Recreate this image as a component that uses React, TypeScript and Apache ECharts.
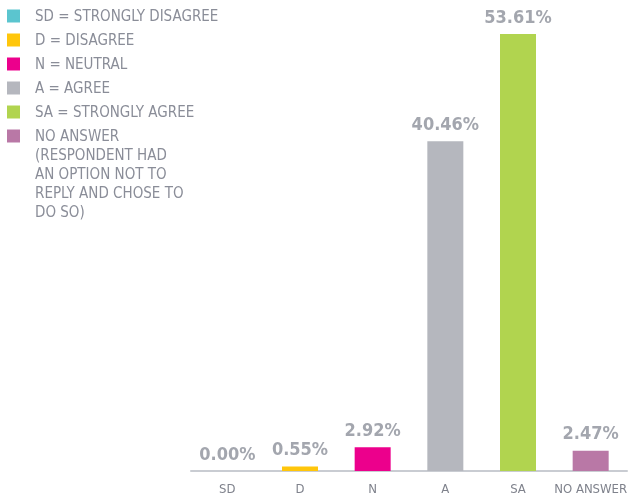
import React, { useEffect, useRef } from "react";
import * as echarts from "echarts";

const categories = ["SD", "D", "N", "A", "SA", "NO ANSWER"];
const values = [0.0, 0.55, 2.92, 40.46, 53.61, 2.47];
const legendLabels = [
  "SD = STRONGLY DISAGREE",
  "D = DISAGREE",
  "N = NEUTRAL",
  "A = AGREE",
  "SA = STRONGLY AGREE",
  "NO ANSWER",
];
const legendNote = "(RESPONDENT HAD\nAN OPTION NOT TO\nREPLY AND CHOSE TO\nDO SO)";
const colors = ["#5bc5cf", "#ffc60b", "#ec008c", "#b5b7be", "#b1d44f", "#b978a6"];

const FONT = "'DejaVu Sans Condensed', 'Liberation Sans Narrow', sans-serif";

export default function App() {
  const ref = useRef<HTMLDivElement>(null);
  useEffect(() => {
    if (!ref.current) return;
    const chart = echarts.init(ref.current, undefined, { renderer: "svg" });
    const series = categories.map((c, i) => ({
      name: c,
      type: "bar",
      stack: "all",
      barWidth: 36,
      itemStyle: { color: colors[i] },
      data: categories.map((_, j) => (j === i ? values[i] : "-")),
      label: {
        show: true,
        position: "top",
        distance: 9,
        formatter: (p: any) => `${Number(p.value).toFixed(2)}%`,
        color: "#a3a6ae",
        fontFamily: FONT,
        fontWeight: "bold",
        fontSize: 18,
      },
    }));
    chart.setOption({
      animation: false,
      grid: { left: 191, right: 1, top: 34, bottom: 27, outerBoundsMode: "none", containLabel: false },
      legend: {
        orient: "vertical",
        left: 2,
        top: 1,
        itemWidth: 13,
        itemHeight: 13,
        itemGap: 4,
        icon: "rect",
        data: categories,
        formatter: (name: string) => legendLabels[categories.indexOf(name)],
        textStyle: {
          color: "#8a8d98",
          fontFamily: FONT,
          fontSize: 15,
          lineHeight: 20,
          padding: [0, 0, 0, 10],
        },
      },
      graphic: [
        {
          type: "text",
          left: 35,
          top: 145,
          style: {
            text: legendNote,
            fill: "#8a8d98",
            font: `15px ${FONT}`,
            lineHeight: 19,
          },
        },
      ],
      xAxis: {
        type: "category",
        data: categories,
        axisLine: { show: true, lineStyle: { color: "#c9ccd2", width: 2 } },
        axisTick: { show: false },
        axisLabel: {
          interval: 0,
          hideOverlap: false,
          color: "#7f828c",
          fontFamily: FONT,
          fontSize: 13,
          margin: 11,
        },
      },
      yAxis: {
        type: "value",
        min: 0,
        max: 53.61,
        show: false,
        splitLine: { show: false },
      },
      series,
    });
    return () => chart.dispose();
  }, []);
  return (
    <div
      ref={ref}
      style={{ position: "fixed", left: 0, top: 0, width: 628, height: 498 }}
    />
  );
}
